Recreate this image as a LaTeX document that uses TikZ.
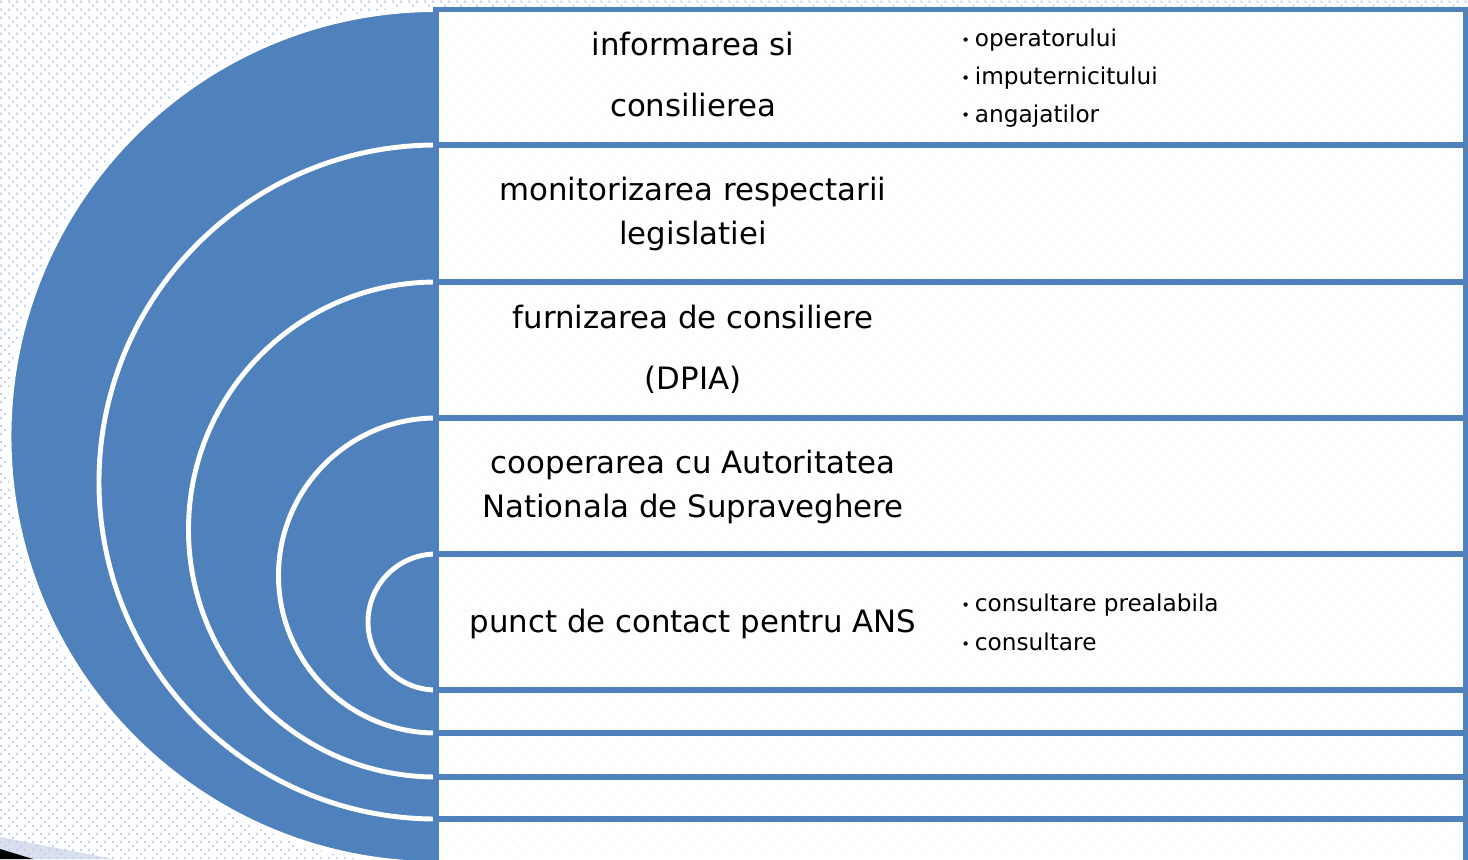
\documentclass[tikz,border=0pt]{standalone}
\usepackage{fontspec}
\setmainfont{DejaVu Sans}
\usepackage{tikz}
\usetikzlibrary{patterns}

\definecolor{dpblue}{HTML}{4F81BD}
\definecolor{dotblue}{HTML}{C2D1EE}
\definecolor{bandgray}{HTML}{D8DFEE}

% dotted slide background, 16px tile
\pgfdeclarepatternformonly{slidedots}{\pgfqpoint{-0.1pt}{-0.1pt}}{\pgfqpoint{4.7pt}{4.7pt}}{\pgfqpoint{4.552pt}{4.552pt}}{%
  \pgfpathrectangle{\pgfqpoint{0pt}{0pt}}{\pgfqpoint{0.57pt}{0.57pt}}%
  \pgfpathrectangle{\pgfqpoint{2.276pt}{0pt}}{\pgfqpoint{0.57pt}{0.57pt}}%
  \pgfpathrectangle{\pgfqpoint{3.414pt}{1.138pt}}{\pgfqpoint{0.57pt}{0.57pt}}%
  \pgfpathrectangle{\pgfqpoint{0pt}{2.276pt}}{\pgfqpoint{0.57pt}{0.57pt}}%
  \pgfpathrectangle{\pgfqpoint{2.276pt}{2.276pt}}{\pgfqpoint{0.57pt}{0.57pt}}%
  \pgfpathrectangle{\pgfqpoint{1.138pt}{3.414pt}}{\pgfqpoint{0.57pt}{0.57pt}}%
  \pgfusepath{fill}}

\newcommand{\bul}{\raisebox{0.3pt}{\fontsize{4.2}{4.2}\selectfont •}\hspace{1.4pt}}

\begin{document}
\begin{tikzpicture}[x=0.01cm, y=0.01cm,
    disk/.style={fill=dpblue, draw=white, line width=1.4pt},
    rowbox/.style={draw=dpblue, fill=white, fill opacity=0.9, line width=1.45pt},
    maintext/.style={font=\fontsize{8.76}{12.5}\selectfont, align=center, inner sep=0pt},
    subtext/.style={font=\fontsize{6.6}{10.75}\selectfont, align=left, anchor=west, inner sep=0pt}]
    \useasboundingbox (0,0) rectangle (1468,859);
    \clip (0,0) rectangle (1468,859);

    % Background
    \fill[bandgray] (0,22) -- (113,0) -- (0,0) -- cycle;
    \fill[pattern=slidedots, pattern color=dotblue] (0,0) rectangle (1468,859);
    \fill[black] (0,10) -- (33,0) -- (0,0) -- cycle;

    % Half disks
    \foreach \t/\r in {849.5/427, 714/337, 577/247.5, 441/157.5, 305/68}
        \draw[disk] (436,\t) arc[start angle=90, end angle=270, radius=\r] -- cycle;

    % Rows
    \foreach \t/\b in {849.5/714, 714/577, 577/441, 441/305, 305/169, 169/126, 126/82, 82/40, 40/-8}
        \draw[rowbox] (436,\b) rectangle (1465.5,\t);

    % Labels
    \node[maintext] (inform) at (693,784.5) {informarea si\\[4.8pt]consilierea};
    \node[maintext] (monit) at (693,644.7) {monitorizarea respectarii\\legislatiei};
    \node[maintext] (furniz) at (693,509.8) {furnizarea de consiliere\\[4.8pt](DPIA)};
    \node[maintext] (cooper) at (693,371.6) {cooperarea cu Autoritatea\\Nationala de Supraveghere};
    \node[maintext] (punct) at (693,234.7) {punct de contact pentru ANS};

    % Bullets
    \node[subtext] (roles) at (960.6,781.2) {\bul operatorului\\\bul imputernicitului\\\bul angajatilor};
    \node[subtext] (consult) at (960.6,236.6) {\bul consultare prealabila\\[0.35pt]\bul consultare};
\end{tikzpicture}
\end{document}
